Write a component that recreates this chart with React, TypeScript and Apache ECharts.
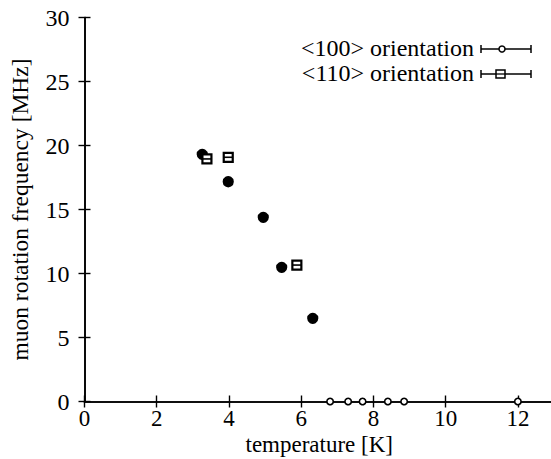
import React, { useEffect, useRef } from "react";
import * as echarts from "echarts";

const xTicks = [0, 2, 4, 6, 8, 10, 12];
const yTicks = [0, 5, 10, 15, 20, 25, 30];

const temp100 = [3.26, 3.98, 4.95, 5.46, 6.32, 6.8, 7.3, 7.7, 8.4, 8.85, 12.0];
const freq100 = [19.31, 17.17, 14.39, 10.48, 6.5, 0, 0, 0, 0, 0, 0];

const temp110 = [3.39, 3.98, 5.88];
const freq110 = [18.95, 19.08, 10.66];

const legendLabels = ["<100> orientation", "<110> orientation"];
const xName = "temperature [K]";
const yName = "muon rotation frequency [MHz]";

const FONT = "Liberation Serif";

export default function App() {
  const ref = useRef<HTMLDivElement>(null);
  useEffect(() => {
    document.body.style.overflow = "hidden";
    const chart = echarts.init(ref.current!, null, { renderer: "svg" });
    const axisCommon = {
      axisLine: { show: true, lineStyle: { color: "#000", width: 1.6 } },
      axisTick: { show: true, inside: true, length: 6, lineStyle: { color: "#000", width: 1.4 } },
      splitLine: { show: false },
    };
    const fontSize = 24;
    chart.setOption({
      animation: false,
      backgroundColor: "#fff",
      textStyle: { fontFamily: FONT, color: "#000" },
      grid: {
        left: 84.5,
        right: 6,
        top: 17.5,
        bottom: 57.5,
        containLabel: false,
        outerBoundsMode: "none",
      },
      xAxis: [
        {
          type: "value",
          min: 0,
          max: 13,
          interval: 2,
          position: "bottom",
          ...axisCommon,
          axisLabel: {
            color: "#000",
            fontFamily: FONT,
            fontSize: 23,
            lineHeight: 20,
            margin: 7,
            showMaxLabel: false,
            formatter: (v: number) => (xTicks.includes(v) ? String(v) : ""),
          },
          name: xName,
          nameLocation: "middle",
          nameGap: 31.5,
          nameMoveOverlap: false,
          nameTextStyle: { color: "#000", fontFamily: FONT, fontSize: 23, lineHeight: 23 },
        },
        {
          type: "value",
          min: 0,
          max: 13,
          interval: 2,
          position: "top",
          ...axisCommon,
          axisLabel: { show: false },
        },
      ],
      yAxis: [
        {
          type: "value",
          min: 0,
          max: 30,
          interval: 5,
          position: "left",
          ...axisCommon,
          axisLabel: {
            color: "#000",
            fontFamily: FONT,
            fontSize,
            margin: 15,
            formatter: (v: number) => (yTicks.includes(v) ? String(v) : ""),
          },
          name: yName,
          nameLocation: "middle",
          nameGap: 53,
          nameMoveOverlap: false,
          nameTextStyle: { color: "#000", fontFamily: FONT, fontSize: 23.5 },
        },
        {
          type: "value",
          min: 0,
          max: 30,
          interval: 5,
          position: "right",
          ...axisCommon,
          axisLabel: { show: false },
        },
      ],
      series: [
        {
          name: legendLabels[0],
          type: "custom",
          clip: false,
          data: temp100.map((t, i) => [t, freq100[i]]),
          renderItem: (_p: any, api: any) => {
            const v = api.value(1);
            const p = api.coord([api.value(0), v]);
            const zero = v === 0;
            return {
              type: "circle",
              shape: { cx: p[0], cy: p[1], r: zero ? 3.2 : 4.8 },
              style: { fill: zero ? "#fff" : "#000", stroke: "#000", lineWidth: 1.6 },
            };
          },
        },
        {
          name: legendLabels[1],
          type: "custom",
          clip: false,
          data: temp110.map((t, i) => [t, freq110[i]]),
          renderItem: (_p: any, api: any) => {
            const p = api.coord([api.value(0), api.value(1)]);
            return {
              type: "group",
              children: [
                {
                  type: "rect",
                  shape: { x: p[0] - 4.5, y: p[1] - 4.5, width: 9, height: 9 },
                  style: { fill: "#fff", stroke: "#000", lineWidth: 2.2 },
                },
                {
                  type: "line",
                  shape: { x1: p[0] - 4.5, y1: p[1], x2: p[0] + 4.5, y2: p[1] },
                  style: { stroke: "#000", lineWidth: 1.6 },
                },
              ],
            };
          },
        },
      ],
      graphic: [
        {
          type: "text",
          x: 474,
          y: 48,
          style: {
            text: legendLabels[0],
            fontFamily: FONT,
            fontSize: 24,
            fill: "#000",
            align: "right",
            verticalAlign: "middle",
          },
        },
        {
          type: "text",
          x: 474,
          y: 73,
          style: {
            text: legendLabels[1],
            fontFamily: FONT,
            fontSize: 24,
            fill: "#000",
            align: "right",
            verticalAlign: "middle",
          },
        },
        { type: "line", shape: { x1: 481, y1: 49, x2: 531, y2: 49 }, style: { stroke: "#000", lineWidth: 1.3 } },
        { type: "line", shape: { x1: 481, y1: 45, x2: 481, y2: 53 }, style: { stroke: "#000", lineWidth: 1.5 } },
        { type: "line", shape: { x1: 531, y1: 45, x2: 531, y2: 53 }, style: { stroke: "#000", lineWidth: 1.5 } },
        { type: "circle", shape: { cx: 502, cy: 49, r: 3 }, style: { fill: "#fff", stroke: "#000", lineWidth: 1.5 } },
        { type: "line", shape: { x1: 481, y1: 74, x2: 531, y2: 74 }, style: { stroke: "#000", lineWidth: 1.3 } },
        { type: "line", shape: { x1: 481, y1: 70, x2: 481, y2: 78 }, style: { stroke: "#000", lineWidth: 1.5 } },
        { type: "line", shape: { x1: 531, y1: 70, x2: 531, y2: 78 }, style: { stroke: "#000", lineWidth: 1.5 } },
        { type: "rect", shape: { x: 496, y: 70, width: 9, height: 8 }, style: { fill: "#fff", stroke: "#000", lineWidth: 1.5 } },
        { type: "line", shape: { x1: 496, y1: 74, x2: 505, y2: 74 }, style: { stroke: "#000", lineWidth: 1.3 } },
      ],
    });
    return () => chart.dispose();
  }, []);
  return (
    <div
      ref={ref}
      style={{ position: "fixed", left: 0, top: 0, width: 560, height: 459, background: "#fff" }}
    />
  );
}
